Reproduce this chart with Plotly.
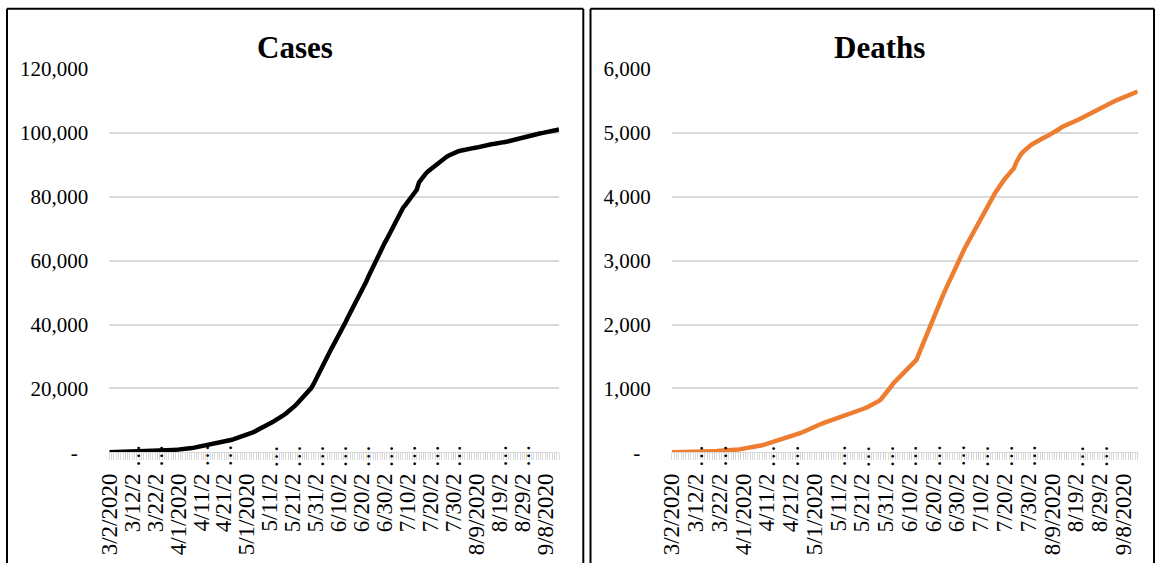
import plotly.graph_objects as go

W, H = 1158, 563

# Daily dates 3/2/2020 .. 9/14/2020 (day index 0..196); every tenth day is labelled.
# Labels that do not fit are cut short and get an ellipsis.
tick_days = [0, 10, 20, 30, 40, 50, 60, 70, 80, 90, 100, 110, 120, 130, 140, 150, 160, 170, 180, 190]
tick_labels = ["3/2/2020", "3/12/2", "3/22/2", "4/1/2020", "4/11/2", "4/21/2",
               "5/1/2020", "5/11/2", "5/21/2", "5/31/2", "6/10/2", "6/20/2",
               "6/30/2", "7/10/2", "7/20/2", "7/30/2", "8/9/2020", "8/19/2",
               "8/29/2", "9/8/2020"]
cut_days = [d for d, t in zip(tick_days, tick_labels) if len(t) < 8]

cases = [
    20, 30, 45, 60, 75, 90, 110, 125, 140, 155,
    170, 180, 190, 205, 225, 250, 280, 310, 340, 370,
    400, 435, 470, 505, 545, 585, 630, 675, 720, 760,
    800, 860, 920, 1000, 1100, 1220, 1340, 1470, 1600, 1730,
    1860, 2000, 2150, 2320, 2490, 2640, 2790, 2930, 3080, 3220,
    3370, 3520, 3680, 3850, 4020, 4230, 4480, 4750, 5020, 5280,
    5530, 5780, 6060, 6380, 6720, 7060, 7400, 7760, 8150, 8560,
    8990, 9420, 9820, 10200, 10650, 11150, 11650, 12150, 12700, 13250,
    13900, 14600, 15350, 16100, 16850, 17600, 18400, 19250, 20100, 21300,
    22800, 24400, 25900, 27300, 28700, 30100, 31500, 32700, 34000, 35300,
    36500, 37500, 39000, 40800, 42300, 43700, 44900, 46100, 47300, 48800,
    50100, 51800, 53500, 55100, 56700, 58300, 59800, 61100, 62600, 64100,
    65500, 66800, 68300, 69800, 71300, 72700, 74200, 75400, 76500, 77400,
    78300, 79200, 80200, 81100, 82200, 84500, 85600, 86500, 87300, 88000,
    88600, 89200, 89900, 90500, 91000, 91600, 92100, 92500, 92900, 93300,
    93700, 94000, 94200, 94400, 94600, 94700, 94900, 95000, 95200, 95300,
    95400, 95600, 95800, 95900, 96100, 96200, 96300, 96500, 96600, 96800,
    96900, 97000, 97100, 97200, 97400, 97500, 97600, 97800, 98000, 98200,
    98400, 98600, 98800, 99100, 99300, 99500, 99700, 99800, 99900, 100000,
    100100, 100300, 100500, 100600, 100800, 100900, 101100,
]

deaths = [
    1, 1, 2, 3, 4, 5, 6, 7, 8, 9,
    10, 11, 12, 13, 14, 15, 16, 17, 18, 19,
    20, 22, 24, 26, 29, 32, 36, 40, 45, 50,
    55, 60, 66, 72, 78, 85, 92, 100, 110, 120,
    131, 142, 153, 163, 175, 188, 200, 213, 226, 238,
    250, 262, 274, 285, 298, 315, 333, 352, 370, 390,
    405, 418, 432, 446, 460, 473, 486, 498, 510, 524,
    535, 545, 555, 566, 580, 595, 612, 628, 643, 656,
    670, 685, 703, 720, 740, 760, 780, 800, 830, 870,
    915, 965, 1015, 1070, 1110, 1150, 1185, 1220, 1260, 1300,
    1340, 1375, 1410, 1450, 1545, 1640, 1735, 1830, 1920, 2005,
    2090, 2180, 2270, 2360, 2450, 2535, 2620, 2705, 2790, 2870,
    2950, 3030, 3100, 3175, 3245, 3310, 3380, 3440, 3505, 3570,
    3630, 3700, 3770, 3840, 3920, 3990, 4060, 4120, 4180, 4230,
    4275, 4320, 4360, 4405, 4450, 4545, 4620, 4670, 4710, 4750,
    4780, 4805, 4830, 4855, 4875, 4895, 4915, 4935, 4950, 4970,
    4985, 5005, 5030, 5060, 5090, 5110, 5130, 5145, 5160, 5175,
    5190, 5205, 5225, 5245, 5265, 5285, 5305, 5325, 5345, 5365,
    5385, 5405, 5425, 5445, 5465, 5480, 5495, 5510, 5525, 5540,
    5555, 5570, 5585, 5600, 5615, 5630, 5648,
]

days = list(range(len(cases)))

case_ticks = [0, 20000, 40000, 60000, 80000, 100000, 120000]
case_tick_text = ["-\u00a0\u00a0", "20,000", "40,000", "60,000", "80,000", "100,000", "120,000"]
death_ticks = [0, 1000, 2000, 3000, 4000, 5000, 6000]
death_tick_text = ["-\u00a0\u00a0", "1,000", "2,000", "3,000", "4,000", "5,000", "6,000"]

FONT = "Liberation Serif, Times New Roman, serif"
GRID = "#d9d9d9"
XFONT = 23


def px(x):
    return x / W


def py(y):
    return 1 - y / H


fig = go.Figure()
fig.add_trace(go.Scatter(x=days, y=cases, mode="lines", xaxis="x", yaxis="y",
                         line=dict(color="#000000", width=4.5), hoverinfo="skip"))
fig.add_trace(go.Scatter(x=days, y=deaths, mode="lines", xaxis="x2", yaxis="y2",
                         line=dict(color="#ED7D31", width=4.5), hoverinfo="skip"))

ydom = [py(452.3), py(69)]

xcommon = dict(
    range=[0, 196], tickmode="array", tickvals=tick_days, ticktext=tick_labels,
    tickangle=-90, tickfont=dict(family=FONT, size=XFONT, color="#000"),
    ticks="outside", ticklen=7, tickcolor=GRID, tickwidth=1, ticklabelstandoff=4,
    minor=dict(dtick=1, tick0=0, ticks="outside", ticklen=7, tickcolor=GRID, tickwidth=1),
    showline=True, linecolor=GRID, linewidth=1,
    showgrid=False, zeroline=False, fixedrange=True, automargin=False,
)
ycommon = dict(
    tickmode="array", tickfont=dict(family=FONT, size=21, color="#000"),
    showgrid=True, gridcolor=GRID, gridwidth=1.5, zeroline=False,
    ticks="", showline=False, ticklabelstandoff=20, fixedrange=True, automargin=False,
)

fig.update_layout(
    width=W, height=H, autosize=False,
    margin=dict(l=0, r=0, t=0, b=0, pad=0, autoexpand=False),
    paper_bgcolor="white", plot_bgcolor="white",
    showlegend=False,
    xaxis=dict(domain=[px(109.3), px(559)], anchor="y", **xcommon),
    yaxis=dict(domain=ydom, anchor="x", range=[0, 120000],
               tickvals=case_ticks, ticktext=case_tick_text, **ycommon),
    xaxis2=dict(domain=[px(671.7), px(1137.7)], anchor="y2", **xcommon),
    yaxis2=dict(domain=ydom, anchor="x2", range=[0, 6000],
                tickvals=death_ticks, ticktext=death_tick_text, **ycommon),
)

# Ellipsis marks for the shortened date labels, sitting across the axis
for xref in ("x", "x2"):
    for d in cut_days:
        fig.add_annotation(text="…", xref=xref, yref="paper", x=d, y=py(456),
                           xanchor="center", yanchor="middle", textangle=-90,
                           showarrow=False, font=dict(family=FONT, size=XFONT, color="#000"))

# Panel titles
for label, cx in (("Cases", 295), ("Deaths", 879)):
    fig.add_annotation(text=f"<b>{label}</b>", xref="paper", yref="paper",
                       x=px(cx), y=py(47), xanchor="center", yanchor="middle",
                       showarrow=False, font=dict(family=FONT, size=31, color="#000"))

# Panel frames (left, top, right edges; bottom runs off the page)
frame = dict(color="#000000", width=2)
for left, right in ((7, 583.3), (590.5, 1154)):
    top = 8.7
    fig.add_shape(type="line", xref="paper", yref="paper",
                  x0=px(left), x1=px(left), y0=py(top), y1=py(H + 5), line=frame)
    fig.add_shape(type="line", xref="paper", yref="paper",
                  x0=px(left), x1=px(right), y0=py(top), y1=py(top), line=frame)
    fig.add_shape(type="line", xref="paper", yref="paper",
                  x0=px(right), x1=px(right), y0=py(top), y1=py(H + 5), line=frame)

fig.write_html("out.html")
